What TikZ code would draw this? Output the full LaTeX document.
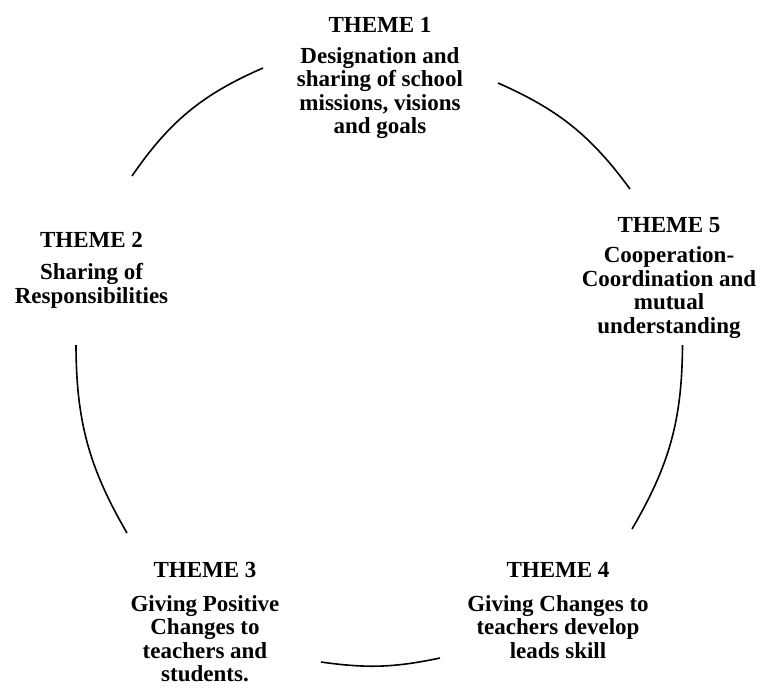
\documentclass[tikz,border=0pt]{standalone}
\usepackage{fontspec}
\setmainfont{Liberation Serif}
\begin{document}
\begin{tikzpicture}[x=1pt,y=1pt,
  theme/.style={inner sep=0pt, anchor=base, font=\bfseries\fontsize{23}{23.4}\selectfont},
  link/.style={line width=1.6pt, black}]
\useasboundingbox (0,0) rectangle (761,-689);
\setlength{\tabcolsep}{0pt}
% theme nodes
\node[theme] (t1) at (380,-32) {\begin{tabular}[t]{c}THEME 1\\[8pt] Designation and\\ sharing of school\\ missions, visions\\ and goals\end{tabular}};
\node[theme] (t2) at (91.5,-247) {\begin{tabular}[t]{c}THEME 2\\[9.5pt] Sharing of\\ Responsibilities\end{tabular}};
\node[theme] (t5) at (669,-232) {\begin{tabular}[t]{c}THEME 5\\[7.5pt] Cooperation-\\ Coordination and\\ mutual\\ understanding\end{tabular}};
\node[theme] (t3) at (205,-577) {\begin{tabular}[t]{c}THEME 3\\[11pt] Giving Positive\\ Changes to\\ teachers and\\ students.\end{tabular}};
\node[theme] (t4) at (558,-577) {\begin{tabular}[t]{c}THEME 4\\[11pt] Giving Changes to\\ teachers develop\\ leads skill\end{tabular}};
% arc end points
\coordinate (a12) at (132,-176);
\coordinate (a21) at (263,-68);
\coordinate (a15) at (498,-83);
\coordinate (a51) at (630,-189);
\coordinate (a54) at (682.5,-345);
\coordinate (a45) at (632,-529);
\coordinate (a43) at (440,-658);
\coordinate (a34) at (321,-662);
\coordinate (a32) at (127,-533);
\coordinate (a23) at (76,-345);
% arcs
\draw[link] (a12) to[bend left=16] (a21);
\draw[link] (a15) to[bend left=15] (a51);
\draw[link] (a54) to[bend left=15] (a45);
\draw[link] (a43) to[bend left=10] (a34);
\draw[link] (a32) to[bend left=15] (a23);
\end{tikzpicture}
\end{document}
